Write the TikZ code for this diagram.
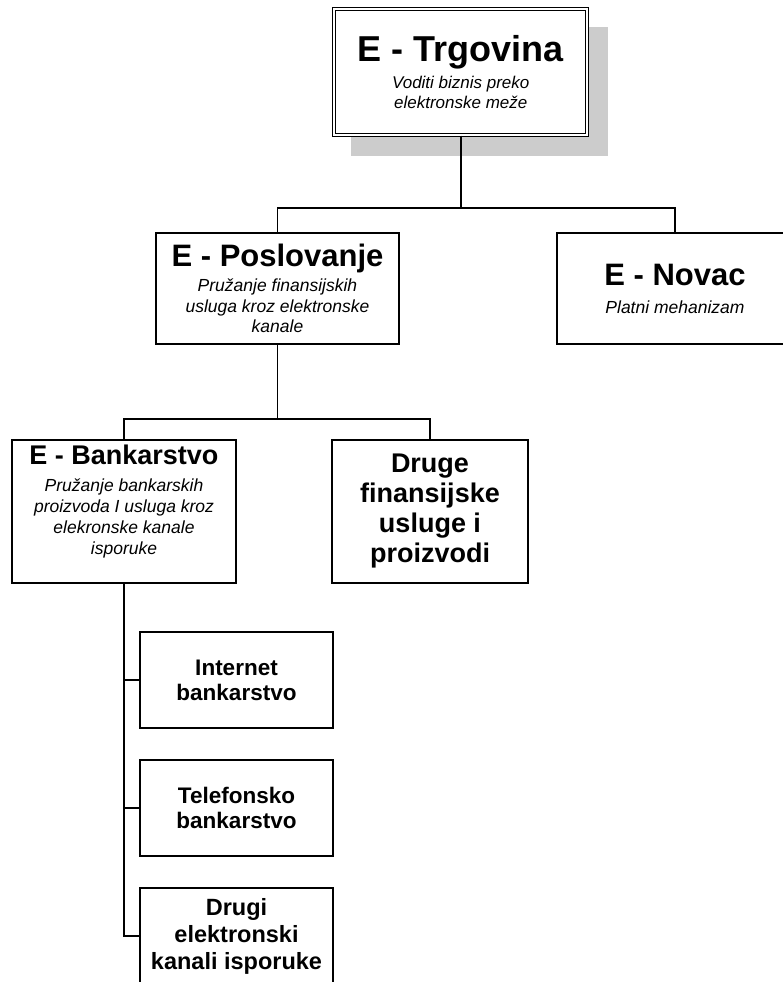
\documentclass[tikz,border=0pt]{standalone}
\usepackage{fontspec}
\setmainfont{Liberation Sans}
\begin{document}
\begin{tikzpicture}[x=1pt,y=-1pt,
  box/.style={draw, line width=1.7pt, rectangle, inner sep=0pt, align=center, fill=white},
  conn/.style={line width=1.7pt},
  shadowbox/.style={fill=black!20, draw=none},
  subfont/.style={font=\itshape\fontsize{17.5}{20.5}\selectfont},
]
\useasboundingbox (0,0) rectangle (783,982);
\begin{scope}
\clip (0,0) rectangle (783,982);

% shadow of top box
\fill[shadowbox] (351,27) rectangle (608,156);

% nodes
\node[box, double, line width=1.2pt, double distance=2pt, minimum width=253pt, minimum height=126pt,
      font=\itshape\fontsize{17}{20}\selectfont] (top) at (460.75,72)
  {{\fontsize{36}{40}\selectfont\bfseries\upshape E - Trgovina}\\[6.5pt]
   Voditi biznis preko\\ elektronske meže};

\node[box, subfont, minimum width=243pt, minimum height=111pt] (posl) at (277.5,288.5)
  {{\fontsize{31}{34}\selectfont\bfseries\upshape E - Poslovanje}\\[4.5pt]
   Pružanje finansijskih\\ usluga kroz elektronske\\ kanale};

\node[box, subfont, minimum width=236pt, minimum height=111pt] (novac) at (675,288.5)
  {{\fontsize{31}{34}\selectfont\bfseries\upshape E - Novac}\\[7.5pt]
   Platni mehanizam};

\node[box, font=\itshape\fontsize{17.5}{21}\selectfont, minimum width=224pt, minimum height=143pt] (bank) at (124,511.5)
  {{\fontsize{27}{30}\selectfont\bfseries\upshape E - Bankarstvo}\\[6pt]
   Pružanje bankarskih\\ proizvoda I usluga kroz\\ elekronske kanale\\ isporuke\\[2pt]\mbox{}};

\node[box, minimum width=196pt, minimum height=143pt, font=\bfseries\fontsize{27}{30}\selectfont] (druge) at (430,511.5)
  {Druge\\ finansijske\\ usluge i\\ proizvodi};

\node[box, minimum width=193pt, minimum height=96pt, font=\bfseries\fontsize{22.5}{25}\selectfont] (inet) at (236.5,680)
  {Internet\\ bankarstvo};
\node[box, minimum width=193pt, minimum height=96pt, font=\bfseries\fontsize{22.5}{25}\selectfont] (tel) at (236.5,808)
  {Telefonsko\\ bankarstvo};
\node[box, minimum width=193pt, minimum height=96pt, font=\bfseries\fontsize{23.5}{27}\selectfont] (drugi) at (236.5,936)
  {Drugi\\ elektronski\\ kanali isporuke};

% junctions
\coordinate (j1) at (460.75,208);
\coordinate (j2) at (277.5,419);

% connectors
\draw[conn] (top.south) -- (j1) -| (posl.north);
\draw[conn] (j1) -| (novac.north);
\draw[conn] (posl.south) -- (j2) -| (bank.north);
\draw[conn] (j2) -| (druge.north);
\draw[conn] (bank.south) |- (inet.west);
\draw[conn] (bank.south) |- (tel.west);
\draw[conn] (bank.south) |- (drugi.west);
\end{scope}
\end{tikzpicture}
\end{document}
